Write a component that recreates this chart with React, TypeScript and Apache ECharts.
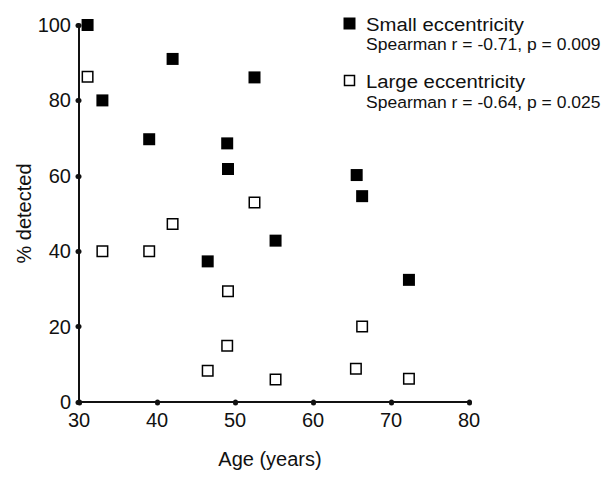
import React, { useEffect, useRef } from "react";
import * as echarts from "echarts";

const smallAge = [31.1, 33.0, 42.0, 52.5, 39.0, 49.0, 49.1, 46.5, 55.2, 65.6, 66.3, 72.3];
const smallPct = [100, 80.0, 91.0, 86.1, 69.7, 68.6, 61.8, 37.3, 42.8, 60.2, 54.6, 32.4];
const largeAge = [31.1, 33.0, 39.0, 42.0, 52.5, 49.1, 49.0, 46.5, 55.2, 66.3, 65.5, 72.3];
const largePct = [86.3, 40.0, 40.0, 47.2, 52.9, 29.4, 14.9, 8.3, 6.0, 20.0, 8.8, 6.2];
const xTicks = { min: 30, max: 80, interval: 10 };
const yTicks = { min: 0, max: 100, interval: 20 };
const seriesNames = ["Small eccentricity", "Large eccentricity"];
const statsText = ["Spearman r = -0.71, p = 0.009", "Spearman r = -0.64, p = 0.025"];

const FONT = "Liberation Sans, Arial, Helvetica, sans-serif";

export default function App() {
  const ref = useRef<HTMLDivElement>(null);
  useEffect(() => {
    if (!ref.current) return;
    const chart = echarts.init(ref.current, undefined, { renderer: "svg" });
    const axisCommon = {
      axisLine: { show: true, lineStyle: { color: "#111", width: 2 } },
      axisTick: { show: true, length: 1, lineStyle: { color: "#111", width: 5, cap: "round" } },
      splitLine: { show: false },
      axisLabel: { color: "#111", fontSize: 20, fontFamily: FONT, margin: 8 },
      nameLocation: "middle",
      nameMoveOverlap: false,
    };
    chart.setOption({
      animation: false,
      backgroundColor: "#fff",
      grid: { left: 79, right: 139, top: 25, bottom: 79, containLabel: false },
      xAxis: {
        type: "value",
        ...xTicks,
        name: "Age (years)",
        nameGap: 47,
        ...axisCommon,
        nameTextStyle: { color: "#111", fontSize: 20, fontFamily: FONT, padding: [0, 8, 0, 0] },
      },
      yAxis: {
        type: "value",
        ...yTicks,
        name: "% detected",
        nameGap: 45,
        ...axisCommon,
        nameTextStyle: { color: "#111", fontSize: 20, fontFamily: FONT },
      },
      series: [
        {
          name: seriesNames[0],
          type: "scatter",
          symbol: "rect",
          symbolSize: 12,
          itemStyle: { color: "#000", opacity: 1 },
          data: smallAge.map((a, i) => [a, smallPct[i]]),
        },
        {
          name: seriesNames[1],
          type: "scatter",
          symbol: "rect",
          symbolSize: 10.5,
          itemStyle: { color: "#fff", borderColor: "#000", borderWidth: 1.5, opacity: 1 },
          data: largeAge.map((a, i) => [a, largePct[i]]),
        },
      ],
      graphic: [
        { type: "rect", shape: { x: 343.5, y: 17.5, width: 12, height: 12 }, style: { fill: "#000" } },
        { type: "text", x: 366, y: 14.5, scaleX: 1.07, style: { text: seriesNames[0], font: `19px ${FONT}`, fill: "#111" } },
        { type: "text", x: 366, y: 36, scaleX: 1.03, style: { text: statsText[0], font: `17px ${FONT}`, fill: "#111" } },
        { type: "rect", shape: { x: 344.5, y: 75.5, width: 10, height: 10 }, style: { fill: "#fff", stroke: "#000", lineWidth: 1.5 } },
        { type: "text", x: 366, y: 71.5, scaleX: 1.07, style: { text: seriesNames[1], font: `19px ${FONT}`, fill: "#111" } },
        { type: "text", x: 366, y: 94, scaleX: 1.03, style: { text: statsText[1], font: `17px ${FONT}`, fill: "#111" } },
      ],
    });
    return () => chart.dispose();
  }, []);
  return <div ref={ref} style={{ position: "fixed", left: 0, top: 0, width: 608, height: 481 }} />;
}
